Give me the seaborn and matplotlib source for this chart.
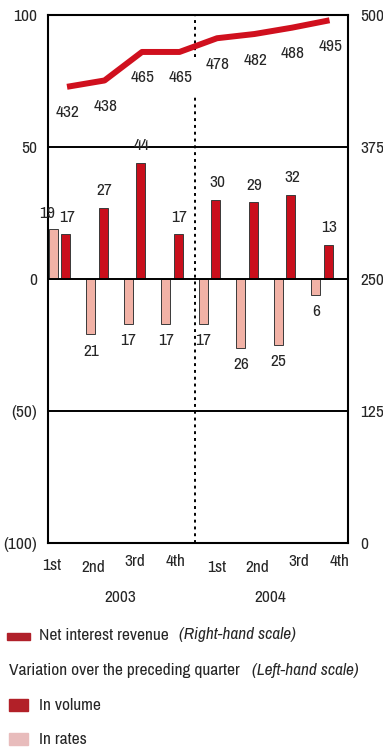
import matplotlib
matplotlib.use("Agg")
import matplotlib.pyplot as plt
import matplotlib.patches as mpatches
import numpy as np
import pandas as pd
import seaborn as sns

# Quarterly data
quarters = ["1st", "2nd", "3rd", "4th", "1st", "2nd", "3rd", "4th"]
years = ["2003", "2004"]
net_interest_revenue = [432, 438, 465, 465, 478, 482, 488, 495]
var_volume = [17, 27, 44, 17, 30, 29, 32, 13]
var_rates = [19, -21, -17, -17, -17, -26, -25, -6]

left_ticks = [-100, -50, 0, 50, 100]
left_labels = ["(100)", "(50)", "0", "50", "100"]
right_ticks = [0, 125, 250, 375, 500]

VOL_COLOR = "#c90f1c"
RATE_COLOR = "#f2b2a6"
LINE_COLOR = "#d0101e"

sns.set_theme(style="white")
plt.rcParams["font.family"] = ["Archivo Narrow", "Liberation Sans", "DejaVu Sans"]
plt.rcParams["font.size"] = 12
FS = 12.5

W, H = 383, 749
fig = plt.figure(figsize=(W / 100, H / 100), dpi=100)
ax = fig.add_axes([48 / W, 1 - 543 / H, 300 / W, 528 / H])

n = len(quarters)
idx = list(range(n))
df = pd.DataFrame({
    "q": idx * 2,
    "value": var_rates + var_volume,
    "kind": ["In rates"] * n + ["In volume"] * n,
})
sns.barplot(data=df, x="q", y="value", hue="kind", hue_order=["In rates", "In volume"],
            palette=[RATE_COLOR, VOL_COLOR], width=0.66, gap=0.27, ax=ax,
            legend=False, edgecolor="#3a3a3a", linewidth=0.7, saturation=1, zorder=3)

ax.set_xlim(-0.307, 7.693)
ax.set_ylim(-100, 100)
ax.set_yticks(left_ticks, left_labels)
ax.set_xticks([])
ax.set_xlabel("")
ax.set_ylabel("")
ax.tick_params(axis="y", length=0, pad=8, labelsize=FS)
for s in ax.spines.values():
    s.set_color("black")
    s.set_linewidth(1.5)
for yv in (50, 0, -50):
    ax.axhline(yv, color="black", lw=1.4, zorder=4)

# separator between the two years
ax.axvline(3.61, ymin=0.92, ymax=1.0, color="black", lw=1.4, ls=(0, (1.5, 2)), zorder=2)
ax.axvline(3.61, ymin=0.0, ymax=0.848, color="black", lw=1.4, ls=(0, (1.5, 2)), zorder=2)

# bar value labels
for i, (v, r) in enumerate(zip(var_volume, var_rates)):
    ax.annotate(f"{abs(v)}", (i + 0.17, v), xytext=(1, 17), textcoords="offset pixels",
                ha="center", va="center", fontsize=FS, zorder=6)
    off = 15 if r > 0 else -17
    dx = -6 if r > 0 else 0
    ax.annotate(f"{abs(r)}", (i - 0.16, r), xytext=(dx, off), textcoords="offset pixels",
                ha="center", va="center", fontsize=FS, zorder=6)

# right-hand scale: net interest revenue
ax2 = ax.twinx()
line_df = pd.DataFrame({"x": [i + 0.2 for i in idx], "v": net_interest_revenue})
sns.lineplot(data=line_df, x="x", y="v", ax=ax2, color=LINE_COLOR, lw=4.3,
             solid_capstyle="butt", zorder=5)
ax2.set_ylim(0, 500)
ax2.set_xlim(-0.307, 7.693)
ax2.set_yticks(right_ticks, [str(t) for t in right_ticks])
ax2.set_xlabel("")
ax2.set_ylabel("")
ax2.tick_params(axis="y", length=0, pad=9, labelsize=FS)
for s in ax2.spines.values():
    s.set_visible(False)
for i, v in enumerate(net_interest_revenue):
    ax2.annotate(f"{v}", (i + 0.2, v), xytext=(1, -26), textcoords="offset pixels",
                 ha="center", va="center", fontsize=FS)

# quarter and year labels
xt = ax.get_xaxis_transform()
q_y = [566, 567, 561, 561, 567, 568, 561, 561]
for i, (q, yy) in enumerate(zip(quarters, q_y)):
    ax.text(-0.2 + 1.097 * i, -(yy - 543) / 528, q, transform=xt,
            ha="center", va="center", fontsize=FS)
for k, y in enumerate(years):
    ax.text(1.61 + 4 * k, -(598 - 543) / 528, y, transform=xt,
            ha="center", va="center", fontsize=FS)

# legend
def fy(px):
    return 1 - px / H

def fx(px):
    return px / W

fig.patches.append(mpatches.Rectangle((fx(7), fy(640)), 23 / W, 7 / H,
                                      transform=fig.transFigure, color="#b0202a"))
fig.text(fx(39), fy(635), "Net interest revenue", ha="left", va="center", fontsize=FS)
fig.text(fx(179), fy(635), "(Right-hand scale)", ha="left", va="center", fontsize=FS,
         style="italic")
fig.text(fx(9), fy(670), "Variation over the preceding quarter", ha="left", va="center",
         fontsize=FS)
fig.text(fx(252), fy(670), "(Left-hand scale)", ha="left", va="center", fontsize=FS,
         style="italic")
fig.patches.append(mpatches.Rectangle((fx(9), fy(711)), 19 / W, 12 / H,
                                      transform=fig.transFigure, color="#b22028"))
fig.text(fx(39), fy(706), "In volume", ha="left", va="center", fontsize=FS)
fig.patches.append(mpatches.Rectangle((fx(9), fy(745)), 19 / W, 12 / H,
                                      transform=fig.transFigure, color="#e8bcbc"))
fig.text(fx(39), fy(740), "In rates", ha="left", va="center", fontsize=FS)

fig.savefig("out.png", dpi=100)
